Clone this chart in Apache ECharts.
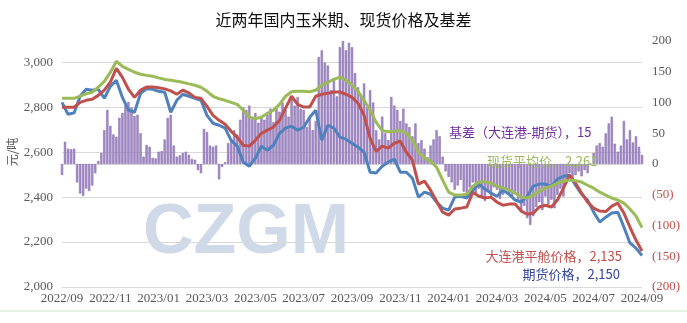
<!DOCTYPE html>
<html><head><meta charset="utf-8">
<script src="https://cdn.jsdelivr.net/npm/echarts@6/dist/echarts.min.js"></script>
<style>html,body{margin:0;padding:0;background:#fff}#c{width:687px;height:323px}</style>
</head><body><div id="c"></div>
<script>
// Tick labels for x axis (every 2 months)
const tickLabels = ['2022/09','2022/11','2023/01','2023/03','2023/05','2023/07','2023/09','2023/11','2024/01','2024/03','2024/05','2024/07','2024/09'];
// Weekly-ish samples (1/4 month step) from 2022/09 to 2024/09
const futures = [2822,2769,2775,2849,2880,2876,2880,2840,2893,2920,
2844,2787,2778,2862,2882,2880,2871,2867,2778,2831,
2858,2849,2840,2831,2764,2729,2720,2707,2653,2627,
2556,2538,2573,2627,2609,2631,2684,2707,2716,2698,
2711,2756,2787,2653,2720,2707,2667,2658,2640,2622,
2600,2511,2507,2538,2556,2569,2511,2511,2484,2400,
2422,2413,2378,2351,2342,2400,2404,2396,2431,2458,
2436,2418,2404,2431,2413,2387,2378,2404,2449,2458,
2458,2449,2480,2493,2498,2453,2413,2387,2333,2289,
2311,2329,2333,2267,2196,2173,2140];
const dalian = [2800,2800,2800,2822,2831,2836,2853,2876,2912,2973,
2933,2880,2844,2876,2890,2890,2887,2882,2873,2858,
2876,2864,2844,2840,2804,2764,2742,2724,2693,2667,
2631,2627,2653,2684,2698,2712,2742,2796,2849,2813,
2801,2801,2849,2858,2862,2868,2868,2858,2844,2818,
2764,2662,2604,2627,2618,2640,2649,2600,2564,2458,
2471,2431,2382,2333,2320,2347,2351,2356,2422,2404,
2396,2400,2378,2364,2369,2369,2338,2324,2329,2356,
2364,2356,2387,2440,2498,2462,2418,2378,2351,2338,
2336,2360,2373,2329,2267,2209,2160];
const spotAvg = [2840,2840,2840,2850,2860,2867,2889,2915,2955,3005,
2982,2969,2956,2947,2942,2938,2931,2924,2920,2916,
2911,2904,2898,2889,2871,2849,2838,2831,2822,2813,
2787,2756,2749,2756,2773,2787,2813,2849,2869,2871,
2871,2869,2876,2898,2911,2924,2934,2920,2898,2871,
2831,2787,2733,2696,2691,2693,2696,2684,2653,2600,
2573,2560,2533,2476,2422,2409,2409,2413,2449,2467,
2469,2462,2449,2440,2431,2418,2400,2396,2409,2427,
2440,2449,2462,2471,2476,2473,2467,2453,2440,2422,
2409,2396,2387,2373,2347,2316,2265];
// Basis samples (1/8 month step)
const basis = [-18,36,25,24,25,-30,-48,-52,-40,-44,
-35,-15,5,18,55,88,62,48,44,75,
83,95,101,92,78,80,50,12,31,28,
10,9,20,21,40,75,80,30,12,14,
18,20,15,8,7,-10,-15,57,52,30,
28,30,-25,-5,3,34,40,55,48,72,
92,88,95,75,83,67,78,72,80,90,
68,93,85,100,88,77,105,95,109,90,
88,60,75,55,70,174,185,165,160,120,
140,110,190,200,185,197,190,148,125,110,
131,93,120,100,55,40,77,50,39,109,
95,88,70,90,66,60,45,66,34,39,
25,11,30,40,55,45,12,-12,-21,-30,
-42,-35,-26,-45,-53,-38,-30,-48,-40,-55,
-60,-45,-52,-38,-42,-57,-50,-40,-48,-55,
-45,-60,-75,-68,-88,-99,-85,-70,-62,-75,
-53,-66,-58,-72,-50,-40,-53,-30,-15,-25,
-18,-12,-20,-10,-15,0,18,30,34,28,
50,66,77,33,20,30,70,40,55,35,
45,28,15];
const lineStep = 0.25, barStep = 0.125;

const chart = echarts.init(document.getElementById('c'), null, {renderer:'canvas'});
const serif = 'Liberation Serif';
const cjk = 'Noto Sans CJK SC';
chart.setOption({
  animation:false,
  title:{text:'近两年国内玉米期、现货价格及基差', left:'center', top:7,
    textStyle:{fontSize:16, fontWeight:'normal', color:'#111', fontFamily:cjk}},
  grid:{left:62, right:45, top:41, bottom:36, outerBoundsMode:'none'},
  xAxis:{type:'value', min:0, max:24, interval:2,
    axisLine:{show:true, lineStyle:{color:'#d9d9d9'}}, axisTick:{show:false}, splitLine:{show:false},
    axisLabel:{formatter:v=>tickLabels[Math.round(v/2)]||'', color:'#595959', fontSize:13, fontFamily:serif, margin:5}},
  yAxis:[
    {type:'value', min:2000, max:3095, interval:200, position:'left',
      axisLine:{show:false}, axisTick:{show:false},
      splitLine:{show:true, showMaxLine:false, lineStyle:{color:'#d9d9d9'}},
      axisLabel:{formatter:v=>v%200===0? v.toLocaleString('en-US') : '', color:'#595959', fontSize:13, fontFamily:serif, margin:9}},
    {type:'value', min:-200, max:200, interval:50, position:'right',
      axisLine:{show:false}, axisTick:{show:false}, splitLine:{show:false},
      axisLabel:{formatter:v=>v<0? '{n|('+(-v)+')}' : String(v), color:'#595959', fontSize:13, fontFamily:serif, margin:10,
        rich:{n:{color:'#c0504d', fontSize:13, fontFamily:serif}}}}
  ],
  graphic:[
    {type:'text', x:246, y:234, z:0, style:{text:'CZGM', font:'bold 70px "Liberation Sans"', fill:'#cfd9e7', align:'center', verticalAlign:'middle'}},
    {type:'text', x:12, y:152, rotation:Math.PI/2, style:{text:'元/吨', font:'12px "Noto Sans CJK SC"', fill:'#595959', align:'center', verticalAlign:'middle'}},
    {type:'text', x:449, y:132, z:10, style:{text:'基差（大连港-期货），15', font:'13px "Noto Sans CJK SC"', fill:'#7030a0', align:'left', verticalAlign:'middle'}},
    {type:'text', x:487, y:161, z:10, style:{text:'现货平均价，2,261', font:'13px "Noto Sans CJK SC"', fill:'#9bbb59', align:'left', verticalAlign:'middle'}},
    {type:'text', x:622, y:256, z:10, style:{text:'大连港平舱价格，2,135', font:'13px "Noto Sans CJK SC"', fill:'#c0504d', align:'right', verticalAlign:'middle'}},
    {type:'text', x:620, y:274, z:10, style:{text:'期货价格，2,150', font:'13px "Noto Sans CJK SC"', fill:'#33449a', align:'right', verticalAlign:'middle'}},
    {type:'line', shape:{x1:0, y1:311, x2:687, y2:311}, style:{stroke:'#cfe4c4', lineWidth:1}}
  ],
  series:[
    {name:'基差', type:'bar', yAxisIndex:1, barWidth:2.3, z:1, silent:true,
      itemStyle:{color:'#a48dcc', borderColor:'#8064a2', borderWidth:0.5}, data:basis.map((v,i)=>[i*barStep, v])},
    {name:'期货价格', type:'line', yAxisIndex:0, symbol:'none', z:3, clip:false,
      lineStyle:{width:3, color:'#4f81bd'}, data:futures.map((v,i)=>[i*lineStep, v])},
    {name:'大连港平舱价格', type:'line', yAxisIndex:0, symbol:'none', z:4, clip:false,
      lineStyle:{width:3, color:'#c0504d'}, data:dalian.map((v,i)=>[i*lineStep, v])},
    {name:'现货平均价', type:'line', yAxisIndex:0, symbol:'none', z:5, clip:false,
      lineStyle:{width:3, color:'#9bbb59'}, data:spotAvg.map((v,i)=>[i*lineStep, v])}
  ]
});
</script>
</body></html>
